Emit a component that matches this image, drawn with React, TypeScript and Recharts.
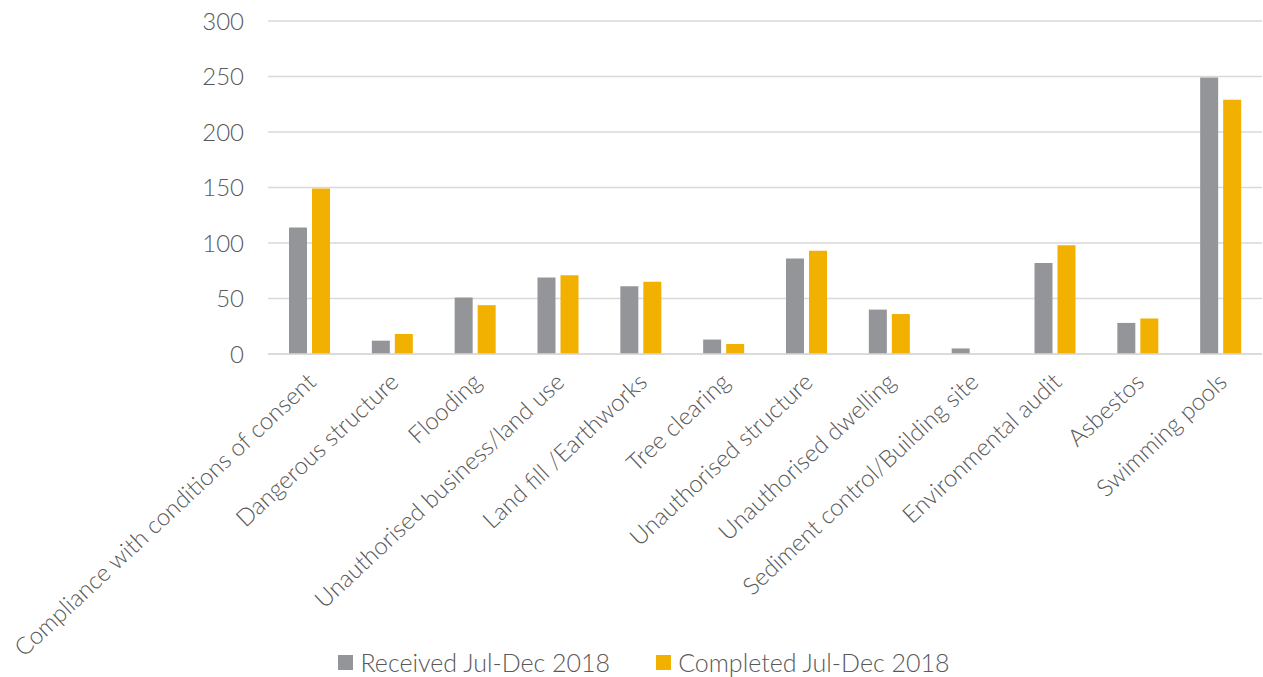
import { Bar, BarChart, CartesianGrid, Legend, XAxis, YAxis } from "recharts";

const categories = [
  "Compliance with conditions of consent",
  "Dangerous structure",
  "Flooding",
  "Unauthorised business/land use",
  "Land fill /Earthworks",
  "Tree clearing",
  "Unauthorised structure",
  "Unauthorised dwelling",
  "Sediment control/Building site",
  "Environmental audit",
  "Asbestos",
  "Swimming pools",
];
const received = [114, 12, 51, 69, 61, 13, 86, 40, 5, 82, 28, 249];
const completed = [149, 18, 44, 71, 65, 9, 93, 36, 0, 98, 32, 229];
const yTicks = [0, 50, 100, 150, 200, 250, 300];

const data = categories.map((name, i) => ({
  name,
  received: received[i],
  completed: completed[i],
}));

const FONT = "Lato, 'Open Sans', sans-serif";
const TEXT = "#595959";

function AngledTick(props: any) {
  const { x, y, payload } = props;
  const ax = x + 8;
  const ay = y + 22;
  return (
    <text
      x={ax}
      y={ay}
      textAnchor="end"
      transform={`rotate(-43, ${ax}, ${ay})`}
      fontSize={24}
      fontWeight={300}
      fontFamily={FONT}
      fill={TEXT}
    >
      {payload.value}
    </text>
  );
}

function LegendBox() {
  const items = [
    { label: "Received Jul-Dec 2018", color: "#939598" },
    { label: "Completed Jul-Dec 2018", color: "#F2B000" },
  ];
  return (
    <div
      style={{
        display: "flex",
        justifyContent: "center",
        gap: 46,
        fontFamily: FONT,
        fontSize: 25,
        fontWeight: 300,
        color: TEXT,
        paddingLeft: 26,
        lineHeight: "30px",
      }}
    >
      {items.map((it) => (
        <div key={it.label} style={{ display: "flex", alignItems: "center" }}>
          <span
            style={{
              display: "inline-block",
              width: 15,
              height: 15,
              background: it.color,
              marginRight: 7,
            }}
          />
          {it.label}
        </div>
      ))}
    </div>
  );
}

export default function App() {
  return (
    <div style={{ position: "fixed", left: 0, top: 0, background: "#fff" }}>
      <BarChart
        width={1263}
        height={677}
        data={data}
        margin={{ top: 21, right: 1, bottom: 0, left: 0 }}
        barSize={18}
        barGap={5}
      >
        <CartesianGrid vertical={false} stroke="#D9D9D9" strokeWidth={1.5} />
        <XAxis
          dataKey="name"
          interval={0}
          height={293}
          tick={<AngledTick />}
          tickLine={false}
          axisLine={{ stroke: "#D9D9D9", strokeWidth: 1.5 }}
        />
        <YAxis
          width={268}
          domain={[0, 300]}
          ticks={yTicks}
          tickMargin={18}
          tick={{ fontSize: 24, fontWeight: 300, fill: TEXT, fontFamily: FONT }}
          axisLine={false}
          tickLine={false}
        />
        <Legend verticalAlign="bottom" height={30} content={<LegendBox />} />
        <Bar dataKey="received" name="Received Jul-Dec 2018" fill="#939598" isAnimationActive={false} />
        <Bar dataKey="completed" name="Completed Jul-Dec 2018" fill="#F2B000" isAnimationActive={false} />
      </BarChart>
    </div>
  );
}
